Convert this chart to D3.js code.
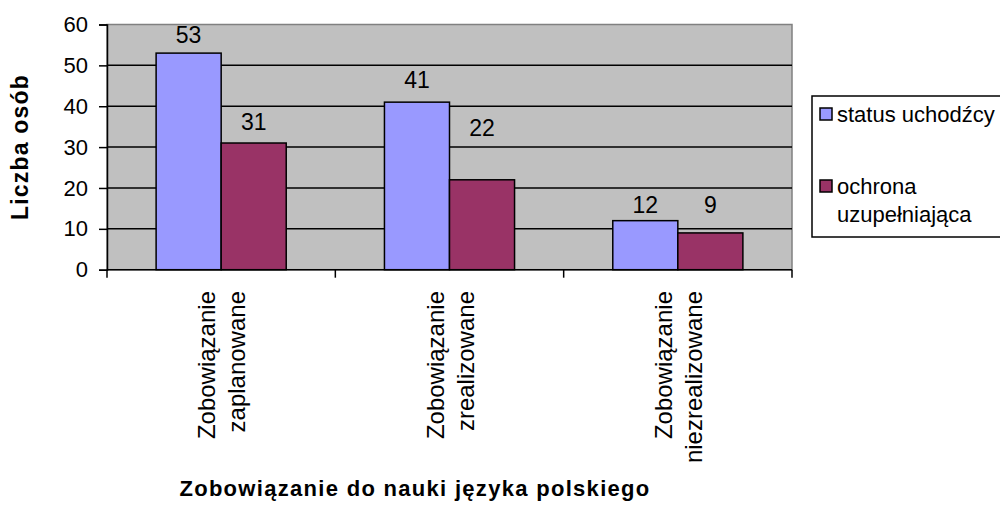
<!DOCTYPE html>
<html>
<head>
<meta charset="utf-8">
<script src="https://cdn.jsdelivr.net/npm/d3@7"></script>
<style>
  body { margin: 0; background: #fff; }
  svg { display: block; font-family: "Liberation Sans", Arial, sans-serif; }
</style>
</head>
<body>
<div id="chart"></div>
<script>
// chart data
const categories = ["Zobowiązanie zaplanowane", "Zobowiązanie zrealizowane", "Zobowiązanie niezrealizowane"];
const categoryLines = [["Zobowiązanie", "zaplanowane"], ["Zobowiązanie", "zrealizowane"], ["Zobowiązanie", "niezrealizowane"]];
const seriesNames = ["status uchodźcy", "ochrona uzupełniająca"];
const statusValues = [53, 41, 12];
const ochronaValues = [31, 22, 9];
const yTicks = [0, 10, 20, 30, 40, 50, 60];
const colors = ["#9999FF", "#993366"];

const width = 1000, height = 523;
const plot = { left: 107, right: 792, top: 24.5, bottom: 269.7 };

const svg = d3.select("#chart").append("svg")
  .attr("width", width)
  .attr("height", height);

const x = d3.scaleBand().domain(categories).range([plot.left, plot.right]);
const xs = d3.scaleBand().domain(seriesNames).range([0, x.bandwidth()]).paddingOuter(0.755);
const y = d3.scaleLinear().domain([0, 60]).range([plot.bottom, plot.top]);

// plot background
svg.append("rect")
  .attr("x", plot.left).attr("y", plot.top)
  .attr("width", plot.right - plot.left).attr("height", plot.bottom - plot.top)
  .attr("fill", "#C0C0C0")
  .attr("stroke", "#808080").attr("stroke-width", 1.5);

// gridlines
svg.append("g").selectAll("line")
  .data(yTicks.filter(d => d > 0 && d < 60))
  .join("line")
  .attr("x1", plot.left).attr("x2", plot.right)
  .attr("y1", d => y(d)).attr("y2", d => y(d))
  .attr("stroke", "#000").attr("stroke-width", 1.5);

// bars
const rows = categories.map((c, i) => ({ cat: c, values: [statusValues[i], ochronaValues[i]] }));
// distance of each value label above its bar (as placed in the original)
const labelGap = [[10, 14, 8], [13, 44, 20]];

const groups = svg.append("g").selectAll("g")
  .data(rows)
  .join("g")
  .attr("transform", d => `translate(${x(d.cat)},0)`);

groups.selectAll("rect")
  .data(d => d.values.map((v, s) => ({ s, v })))
  .join("rect")
  .attr("x", d => xs(seriesNames[d.s]))
  .attr("width", xs.bandwidth())
  .attr("y", d => y(d.v))
  .attr("height", d => y(0) - y(d.v))
  .attr("fill", d => colors[d.s])
  .attr("stroke", "#000").attr("stroke-width", 1.5);

groups.selectAll("text")
  .data((d, i) => d.values.map((v, s) => ({ s, v, i })))
  .join("text")
  .attr("x", d => xs(seriesNames[d.s]) + xs.bandwidth() / 2)
  .attr("y", d => y(d.v) - labelGap[d.s][d.i])
  .attr("text-anchor", "middle")
  .attr("font-size", 23)
  .attr("fill", "#000")
  .text(d => d.v);

// y axis
const yAxis = svg.append("g")
  .attr("transform", `translate(${plot.left},0)`)
  .call(d3.axisLeft(y).tickValues(yTicks).tickSize(8).tickPadding(11));
yAxis.select(".domain").attr("stroke", "#000").attr("stroke-width", 1.5);
yAxis.selectAll(".tick line").attr("stroke", "#000").attr("stroke-width", 1.5);
yAxis.selectAll(".tick text")
  .attr("font-size", 22)
  .attr("font-family", "Liberation Sans, Arial, sans-serif")
  .attr("fill", "#000");

// x axis line and ticks between categories
svg.append("line")
  .attr("x1", plot.left).attr("x2", plot.right)
  .attr("y1", plot.bottom).attr("y2", plot.bottom)
  .attr("stroke", "#000").attr("stroke-width", 1.5);
svg.append("g").selectAll("line")
  .data(categories.map(c => x(c)).concat([plot.right]))
  .join("line")
  .attr("x1", d => d).attr("x2", d => d)
  .attr("y1", plot.bottom).attr("y2", plot.bottom + 8)
  .attr("stroke", "#000").attr("stroke-width", 1.5);

// rotated category labels
const catLabels = svg.append("g").selectAll("text")
  .data(categories)
  .join("text")
  .attr("transform", d => `translate(${x(d) + x.bandwidth() / 2},291) rotate(-90)`)
  .attr("text-anchor", "end")
  .attr("font-size", 24)
  .attr("fill", "#000");
catLabels.selectAll("tspan")
  .data((d, i) => categoryLines[i].map((t, k) => ({ t, k })))
  .join("tspan")
  .attr("x", 0)
  .attr("y", d => (d.k === 0 ? -6 : 24))
  .text(d => d.t);

// axis titles
svg.append("text")
  .attr("transform", "translate(28,147) rotate(-90)")
  .attr("text-anchor", "middle")
  .attr("font-size", 23).attr("font-weight", "bold")
  .attr("letter-spacing", 1.2)
  .text("Liczba osób");

svg.append("text")
  .attr("x", 415).attr("y", 496)
  .attr("text-anchor", "middle")
  .attr("font-size", 22).attr("font-weight", "bold")
  .attr("letter-spacing", 1.3)
  .text("Zobowiązanie do nauki języka polskiego");

// legend
const legend = svg.append("g");
legend.append("rect")
  .attr("x", 812).attr("y", 96)
  .attr("width", 200).attr("height", 141)
  .attr("fill", "#fff").attr("stroke", "#000").attr("stroke-width", 1.5);

const legendLines = [["status uchodźcy"], ["ochrona", "uzupełniająca"]];
const legendY = d3.scalePoint().domain(seriesNames).range([114, 186]);

const items = legend.selectAll("g.item")
  .data(seriesNames)
  .join("g")
  .attr("class", "item")
  .attr("transform", d => `translate(820,${legendY(d)})`);
items.append("rect")
  .attr("x", 0).attr("y", -6)
  .attr("width", 12).attr("height", 12)
  .attr("fill", (d, i) => colors[i])
  .attr("stroke", "#000").attr("stroke-width", 1.5);
items.append("text")
  .attr("font-size", 22)
  .attr("fill", "#000")
  .selectAll("tspan")
  .data((d, i) => legendLines[i])
  .join("tspan")
  .attr("x", 17)
  .attr("y", (t, k) => 8 + k * 28)
  .text(t => t);
</script>
</body>
</html>
